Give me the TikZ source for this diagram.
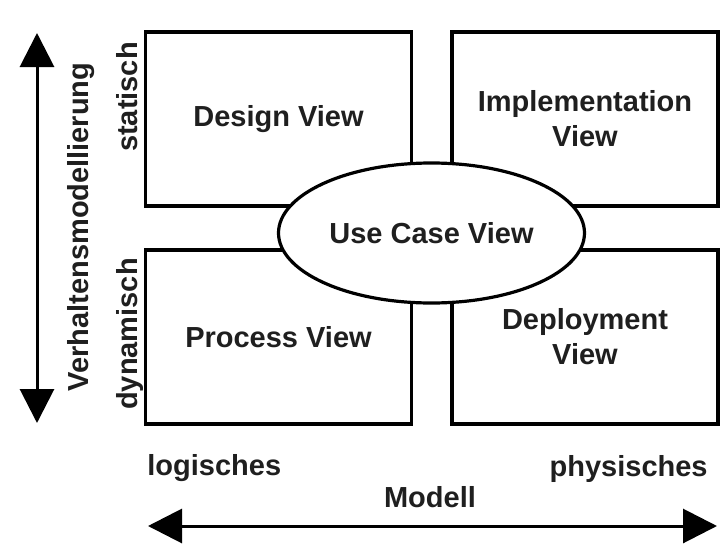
\documentclass[tikz,border=0pt]{standalone}
\usepackage{fontspec}
\setmainfont{Liberation Sans}
\usetikzlibrary{arrows.meta,shapes.geometric}
\begin{document}
\begin{tikzpicture}[x=0.5pt,y=-0.5pt,
  lbl/.style={font=\bfseries\fontsize{14.5}{17.5}\selectfont, text=black!88},
  viewbox/.style={draw, line width=1.8pt, minimum width=133pt, minimum height=87pt, inner sep=0pt, align=center, lbl},
  usecase/.style={ellipse, draw, fill=white, line width=1.6pt, minimum width=153pt, minimum height=70pt, inner sep=0pt, lbl},
  axis/.style={line width=1.5pt, {Triangle[width=17pt,length=17pt]}-{Triangle[width=17pt,length=17pt]}}]
\useasboundingbox (0,0) rectangle (724,552);
\fill[white] (0,0) rectangle (724,552);
% view boxes
\node[viewbox] (design) at (278.5,119) {Design View};
\node[viewbox] (impl) at (585,119) {Implementation\\View};
\node[viewbox] (process) at (278.5,337) {Process View};
\node[viewbox] (deploy) at (585,337) {Deployment\\View};
% use case ellipse
\node[usecase] (usecase) at (431.5,233) {Use Case View};
% vertical axis
\coordinate (vtop) at (37,33);
\coordinate (vbot) at (37,423);
\draw[axis] (vtop) -- (vbot);
\node[lbl, rotate=90, anchor=base] (verh) at (88,227) {Verhaltensmodellierung};
\node[lbl, rotate=90, anchor=base] (stat) at (137,97) {statisch};
\node[lbl, rotate=90, anchor=base] (dyn) at (137,334) {dynamisch};
% horizontal axis
\coordinate (hleft) at (148,526);
\coordinate (hright) at (717,526);
\draw[axis] (hleft) -- (hright);
\node[lbl, inner sep=0pt, anchor=base west] (log) at (147,475) {logisches};
\node[lbl, inner sep=0pt, anchor=base east] (phys) at (708,476) {physisches};
\node[lbl, anchor=base] (modell) at (430,507) {Modell};
\end{tikzpicture}
\end{document}
